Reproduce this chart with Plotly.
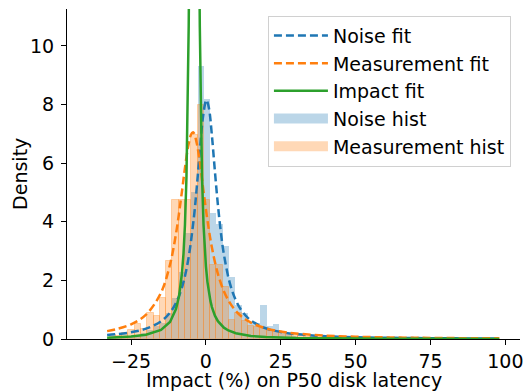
import numpy as np
import plotly.graph_objects as go

# ---------------- data ----------------
bin_start = -32.2
bin_width = 2.1

noise_hist = [0.03, 0.05, 0.08, 0.10, 0.15, 0.20, 0.30, 0.45, 0.55, 0.90,
              1.40, 2.30, 3.60, 5.00, 9.33, 8.19, 4.30, 3.92, 3.17, 2.13,
              1.16, 0.89, 0.55, 0.55, 1.16, 0.45, 0.50, 0.28, 0.12, 0.10,
              0.08, 0.06, 0.05, 0.04, 0.03, 0.02, 0.02, 0.02, 0.01, 0.01,
              0.01, 0.01, 0.00, 0.01, 0.00, 0.01, 0.00, 0.00, 0.01, 0.00,
              0.00, 0.00, 0.01, 0.00, 0.00, 0.00, 0.00, 0.01, 0.00, 0.00,
              0.00, 0.01]

measurement_hist = [0.13, 0.10, 0.20, 0.30, 0.50, 0.35, 0.88, 0.80, 1.40, 2.65,
                    4.75, 4.75, 4.75, 6.95, 8.00, 4.74, 2.52, 2.52, 1.79, 0.65,
                    0.90, 0.60, 0.45, 0.40, 0.35, 0.30, 0.28, 0.20, 0.15, 0.12,
                    0.10, 0.08, 0.06, 0.05, 0.04, 0.03, 0.03, 0.02, 0.02, 0.02,
                    0.01, 0.01, 0.01, 0.01, 0.00, 0.01, 0.00, 0.01, 0.00, 0.00,
                    0.01, 0.00, 0.00, 0.00, 0.01, 0.00, 0.00, 0.00, 0.00, 0.01,
                    0.00, 0.01]

noise_fit_x = [-33, -30, -25, -20, -15, -12, -10, -8, -6, -4, -3, -2, -1, 0, 0.2,
               1, 2, 3, 4, 5, 6, 8, 10, 12, 15, 20, 25, 30, 40, 50, 60, 70, 80, 90, 98]
noise_fit_y = [0.134, 0.162, 0.231, 0.353, 0.604, 0.90, 1.23, 1.76, 2.65, 4.17, 5.24,
               6.46, 7.56, 8.13, 8.15, 7.88, 6.94, 5.72, 4.58, 3.63, 2.89, 1.90, 1.32,
               0.955, 0.634, 0.367, 0.238, 0.166, 0.094, 0.060, 0.042, 0.031, 0.024,
               0.0187, 0.0157]

meas_fit_x = [-33, -30, -25, -20, -15, -12, -10, -8, -7, -6, -5, -4.4, -4, -3, -2, -1,
              0, 1, 2, 4, 6, 8, 10, 12, 15, 20, 25, 30, 40, 50, 60, 70, 80, 90, 98]
meas_fit_y = [0.269, 0.333, 0.501, 0.830, 1.58, 2.54, 3.59, 5.04, 5.84, 6.53, 6.97, 7.05,
              7.02, 6.65, 5.99, 5.20, 4.42, 3.72, 3.12, 2.22, 1.63, 1.23, 0.955, 0.760,
              0.560, 0.365, 0.255, 0.188, 0.114, 0.0766, 0.0548, 0.0411, 0.032, 0.0256,
              0.0218]

impact_fit_x = [-33, -30, -25, -20, -15, -12, -10, -9, -8, -7.5, -7, -6.5, -6, -5.75,
                -5.5, -5.25, -5, -4.5, -3.9, -3.3, -2.8, -2.55, -2.3, -2.05, -1.8, -1.3,
                -0.8, -0.3, 0, 0.5, 1, 1.5, 2, 3, 4, 5, 6, 7.5, 8, 10, 15, 20, 30, 40,
                60, 80, 98]
impact_fit_y = [0.0449, 0.0558, 0.0854, 0.1466, 0.308, 0.578, 1.02, 1.45, 2.24, 2.90,
                3.90, 5.52, 8.37, 10.7, 14.1, 19.4, 28.3, 77, 288, 77, 28.3, 19.4, 14.1,
                10.7, 8.37, 5.52, 3.90, 2.90, 2.48, 1.95, 1.57, 1.30, 1.09, 0.796, 0.608,
                0.479, 0.387, 0.292, 0.268, 0.197, 0.106, 0.0665, 0.0331, 0.0197, 0.0093,
                0.0054, 0.0037]

x_ticks = [-25, 0, 25, 50, 75, 100]
y_ticks = [0, 2, 4, 6, 8, 10]
x_title = "Impact (%) on P50 disk latency"
y_title = "Density"

# ---------------- figure ----------------
n_bins = len(noise_hist)
bin_centers = bin_start + bin_width * (np.arange(n_bins) + 0.5)

BLUE = "#1f77b4"
ORANGE = "#ff7f0e"
GREEN = "#2ca02c"
BLUE_FILL = "rgba(31,119,180,0.3)"
ORANGE_FILL = "rgba(255,127,14,0.3)"

fig = go.Figure()
fig.add_trace(go.Scatter(x=noise_fit_x, y=noise_fit_y, mode="lines", name="Noise fit",
                         line=dict(color=BLUE, width=2.5, dash="8px,4px", shape="spline")))
fig.add_trace(go.Scatter(x=meas_fit_x, y=meas_fit_y, mode="lines", name="Measurement fit",
                         line=dict(color=ORANGE, width=2.5, dash="8px,4px", shape="spline")))
fig.add_trace(go.Scatter(x=impact_fit_x, y=impact_fit_y, mode="lines", name="Impact fit",
                         line=dict(color=GREEN, width=2.5)))
fig.add_trace(go.Bar(x=bin_centers, y=noise_hist, width=bin_width, name="Noise hist",
                     showlegend=False,
                     marker=dict(color=BLUE_FILL, line=dict(width=0))))
fig.add_trace(go.Bar(x=bin_centers, y=measurement_hist, width=bin_width, name="Measurement hist",
                     showlegend=False,
                     marker=dict(color=ORANGE_FILL,
                                 line=dict(width=1, color="rgba(255,127,14,0.3)"))))
# legend patches (wide rectangles, like the reference legend)
fig.add_trace(go.Scatter(x=[None], y=[None], mode="lines", name="Noise hist",
                         line=dict(color=BLUE_FILL, width=13)))
fig.add_trace(go.Scatter(x=[None], y=[None], mode="lines", name="Measurement hist",
                         line=dict(color=ORANGE_FILL, width=13)))

FS = 19
fig.update_layout(
    template="none",
    width=524, height=392,
    margin=dict(l=67, r=4, t=9, b=53, autoexpand=False),
    paper_bgcolor="white", plot_bgcolor="white",
    barmode="overlay", bargap=0,
    font=dict(family="DejaVu Sans", size=FS, color="black"),
    showlegend=True,
    legend=dict(x=0.98, y=0.98, xanchor="right", yanchor="top",
                bgcolor="rgba(255,255,255,0.8)", bordercolor="#d0d0d0", borderwidth=1,
                font=dict(size=FS), itemwidth=54, tracegroupgap=0),
    xaxis=dict(range=[-46.4, 104.9], tickvals=x_ticks,
               showgrid=False, zeroline=False, showline=True, linecolor="black", linewidth=1.25,
               ticks="outside", ticklen=5, tickwidth=1.25, tickcolor="black",
               tickfont=dict(size=FS), automargin=False),
    yaxis=dict(range=[0, 11.26], tickvals=y_ticks, showgrid=False, zeroline=False,
               showline=True, linecolor="black", linewidth=1.25,
               ticks="outside", ticklen=5, tickwidth=1.25, tickcolor="black",
               ticklabelstandoff=3, tickfont=dict(size=FS), automargin=False),
    annotations=[
        dict(text=x_title, xref="paper", yref="paper", x=0.5, y=-0.124,
             xanchor="center", yanchor="middle", showarrow=False, font=dict(size=FS)),
        dict(text=y_title, xref="paper", yref="paper", x=-0.104, y=0.5,
             xanchor="center", yanchor="middle", textangle=-90, showarrow=False,
             font=dict(size=FS)),
    ],
)

fig.write_html("out.html", config={"displayModeBar": False},
               post_script="document.body.style.margin='0';")
